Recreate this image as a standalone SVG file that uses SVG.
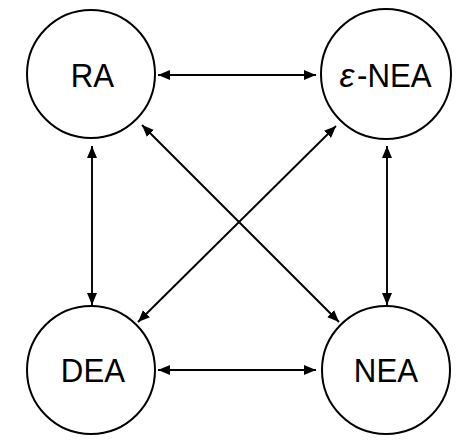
<svg xmlns="http://www.w3.org/2000/svg" width="469" height="445" viewBox="0 0 469 445">
<style>
.node circle{fill:#fff;stroke:#000;stroke-width:2}
.node text{font-family:"Liberation Sans",Arial,sans-serif;font-size:34px;fill:#000}
.c{text-anchor:middle}
.eps{font-family:"Liberation Serif","DejaVu Serif",serif;font-style:italic;font-size:30px;text-anchor:middle}
#edges line{stroke:#000;stroke-width:1.9;marker-start:url(#ah);marker-end:url(#ah)}
</style>
<defs>
<marker id="ah" viewBox="0 0 12 10" refX="12" refY="5" markerWidth="12" markerHeight="10" markerUnits="userSpaceOnUse" orient="auto-start-reverse">
<path d="M0,0 L12,5 L0,10 Z" fill="#000"/>
</marker>
</defs>
<g id="edges">
<line x1="158" y1="75" x2="316" y2="75"/>
<line x1="158" y1="370" x2="316" y2="370"/>
<line x1="92" y1="146" x2="92" y2="305"/>
<line x1="387" y1="146" x2="387" y2="305"/>
<line x1="142" y1="125" x2="339" y2="322"/>
<line x1="336" y1="126" x2="138" y2="322"/>
</g>
<g id="RA" class="node"><circle cx="91" cy="74" r="64"/><text class="c" transform="translate(92.5,87) scale(0.92,1)">RA</text></g>
<g id="eNEA" class="node"><circle cx="386" cy="74" r="65"/><text class="eps" x="347" y="87">ε</text><text transform="translate(357,87) scale(0.92,1)">-NEA</text></g>
<g id="DEA" class="node"><circle cx="91" cy="370" r="64"/><text class="c" transform="translate(93,382) scale(0.92,1)">DEA</text></g>
<g id="NEA" class="node"><circle cx="386" cy="370" r="64"/><text class="c" transform="translate(386,382) scale(0.92,1)">NEA</text></g>
</svg>
